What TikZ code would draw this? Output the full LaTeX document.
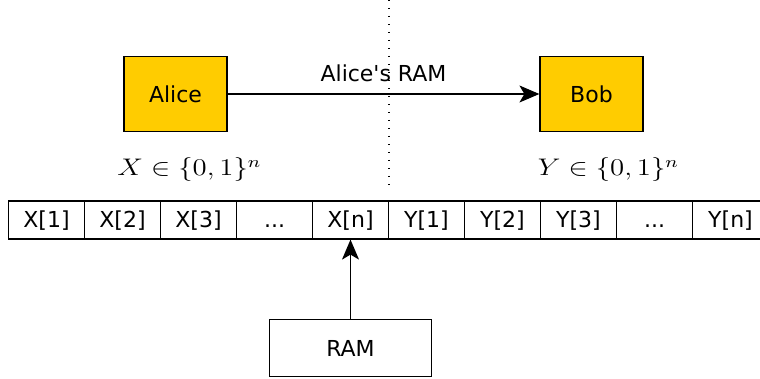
\documentclass[tikz,border=0pt]{standalone}
\usepackage[no-math]{fontspec}
\setmainfont{DejaVu Sans}
\usepackage{amsmath}
\usepackage{graphicx}
\usetikzlibrary{arrows.meta}
\definecolor{jaune}{HTML}{FFCC00}

\begin{document}
\begin{tikzpicture}[x=0.5pt, y=-0.5pt]
			\tikzset{boite/.style={rectangle, draw=black, line width=0.6pt, fill=jaune, minimum width=51.5pt, minimum height=37.5pt, inner sep=0pt, font=\fontsize{11}{13}\selectfont}, case/.style={rectangle, draw=black, line width=0.6pt, minimum width=38pt, minimum height=19pt, inner sep=0pt, text height=8pt, text depth=0.7pt, font=\fontsize{11}{13}\selectfont}, fleche/.style={-{Stealth[length=10pt, width=8.5pt, inset=2.5pt]}, line width=0.6pt}, pointille/.style={line width=0.6pt, dash pattern=on 0.6pt off 3.4pt}, formule/.style={anchor=base, font=\fontsize{12}{14}\selectfont}};

			\useasboundingbox (0,0) rectangle (760,379);

			\node[boite] (alice) at (175.5,  94) {Alice};
			\node[boite] (bob)   at (591.5,  94) {Bob};

			\node[formule] (lx) at (189.5, 176) {\scalebox{1.2}[1]{$X \in \{0,1\}^n$}};
			\node[formule] (ly) at (608.5, 176) {\scalebox{1.2}[1]{$Y \in \{0,1\}^n$}};

			\coordinate (haut) at (389,   0);
			\coordinate (bas)  at (389, 187);

			\node[case] (x1) at ( 46.5, 220) {X[1]};
			\node[case] (x2) at (122.5, 220) {X[2]};
			\node[case] (x3) at (198.5, 220) {X[3]};
			\node[case] (xp) at (274.5, 220) {...};
			\node[case] (xn) at (350.5, 220) {X[n]};
			\node[case] (y1) at (426.5, 220) {Y[1]};
			\node[case] (y2) at (502.5, 220) {Y[2]};
			\node[case] (y3) at (578.5, 220) {Y[3]};
			\node[case] (yp) at (654.5, 220) {...};
			\node[case] (yn) at (730.5, 220) {Y[n]};

			\node[boite, fill=white, minimum width=81pt, minimum height=28.5pt] (ram) at (350.5, 348) {RAM};

			\draw[pointille] (haut) -- (bas);
			\draw[fleche] (alice) to node[above=2.4pt, font=\fontsize{11}{13}\selectfont] {Alice\textquotesingle s RAM} (bob);
			\draw[fleche] (ram) to (xn);

		\end{tikzpicture}
\end{document}
